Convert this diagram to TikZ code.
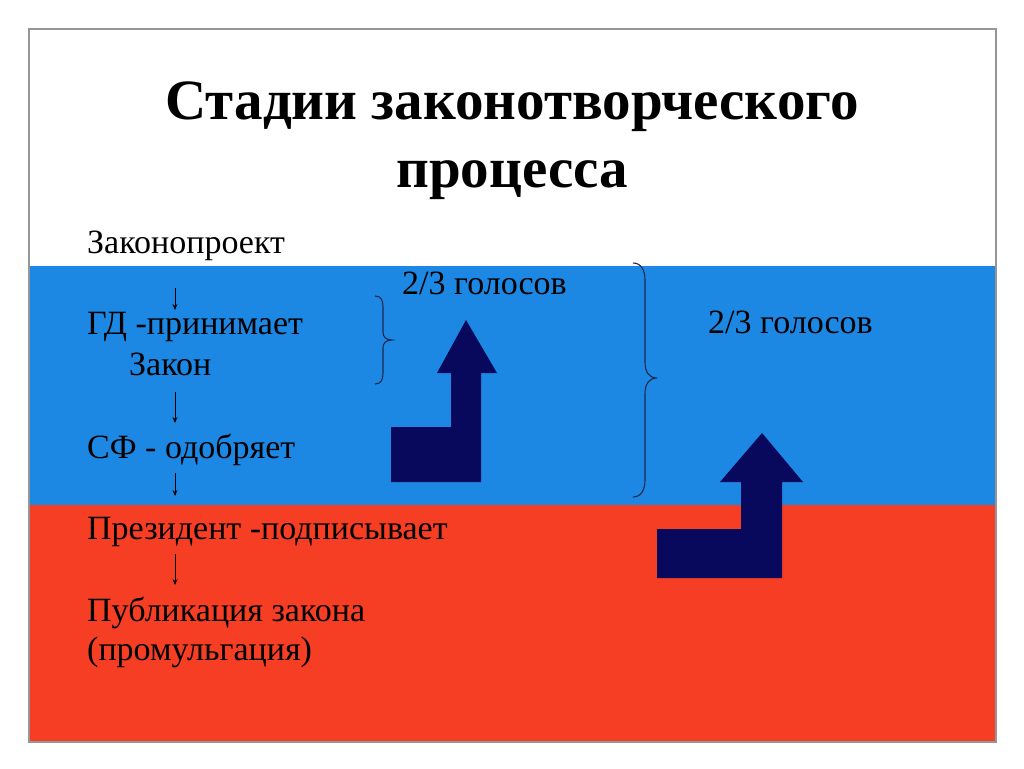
\documentclass[tikz,border=0pt]{standalone}
\usepackage{fontspec}
\setmainfont{Liberation Serif}
\usetikzlibrary{arrows.meta}
\definecolor{flagblue}{RGB}{28,136,228}
\definecolor{flagred}{RGB}{245,62,35}
\definecolor{navy}{RGB}{8,8,92}
\definecolor{framegray}{RGB}{150,150,150}
\definecolor{bracecol}{RGB}{30,40,80}
\tikzset{
  body/.style={anchor=base west, inner sep=0pt, font=\fontsize{34}{40}\selectfont, text=black},
  titletext/.style={anchor=base, inner sep=0pt, font=\fontsize{57}{64}\selectfont\bfseries, text=black},
  smallarrow/.style={draw=black, line width=0.8pt, -{Stealth[length=6pt,width=5pt]}},
  bracestyle/.style={draw=bracecol, line width=1.1pt},
  bigarrow/.style={fill=navy, draw=none}
}
\begin{document}
\begin{tikzpicture}[x=1pt,y=-1pt]
\useasboundingbox (0,0) rectangle (1024,768);
\fill[white] (0,0) rectangle (1024,768);
% bands
\fill[white] (29,29) rectangle (996,266);
\fill[flagblue] (29,266) rectangle (996,505);
\fill[flagred] (29,505) rectangle (996,742);
\draw[framegray, line width=1.5pt] (29,29) rectangle (996,742);
% title
\node[titletext] (t1) at (512,119) {Стадии законотворческого};
\node[titletext] (t2) at (512,187) {процесса};
% body text
\node[body] (zp) at (87,253) {Законопроект};
\node[body] (gd) at (87,334) {ГД -принимает};
\node[body] (zk) at (129,375) {Закон};
\node[body] (sf) at (87,458) {СФ - одобряет};
\node[body] (pr) at (87,539) {Президент -подписывает};
\node[body] (pb) at (87,621) {Публикация закона};
\node[body] (pm) at (87,660) {(промульгация)};
\node[body] (v1) at (402,294) {2/3 голосов};
\node[body] (v2) at (708,333) {2/3 голосов};
% small arrows
\coordinate (a1s) at (175,288); \coordinate (a1e) at (175,310);
\coordinate (a2s) at (175,392); \coordinate (a2e) at (175,423);
\coordinate (a3s) at (175,473); \coordinate (a3e) at (175,496);
\coordinate (a4s) at (175,554); \coordinate (a4e) at (175,585);
\draw[smallarrow] (a1s) -- (a1e);
\draw[smallarrow] (a2s) -- (a2e);
\draw[smallarrow] (a3s) -- (a3e);
\draw[smallarrow] (a4s) -- (a4e);
% braces
\draw[bracestyle] (375,296) .. controls (381,296) and (383,300) .. (383,307) -- (383,332)
  .. controls (383,337) and (386,340) .. (392,340)
  .. controls (386,340) and (383,343) .. (383,348) -- (383,373)
  .. controls (383,380) and (381,384) .. (375,384);
\draw[bracestyle] (633,263) .. controls (641,263) and (645,270) .. (645,280) -- (645,362)
  .. controls (645,372) and (649,378) .. (657,378)
  .. controls (649,378) and (645,384) .. (645,394) -- (645,480)
  .. controls (645,490) and (641,497) .. (633,497);
% big arrows
\fill[bigarrow] (466,320) -- (497,373) -- (481,373) -- (481,482) -- (391,482) -- (391,427)
  -- (451,427) -- (451,373) -- (437,373) -- cycle;
\fill[bigarrow] (762,433) -- (803,482) -- (782,482) -- (782,578) -- (657,578) -- (657,529)
  -- (741,529) -- (741,482) -- (720,482) -- cycle;
\end{tikzpicture}
\end{document}
